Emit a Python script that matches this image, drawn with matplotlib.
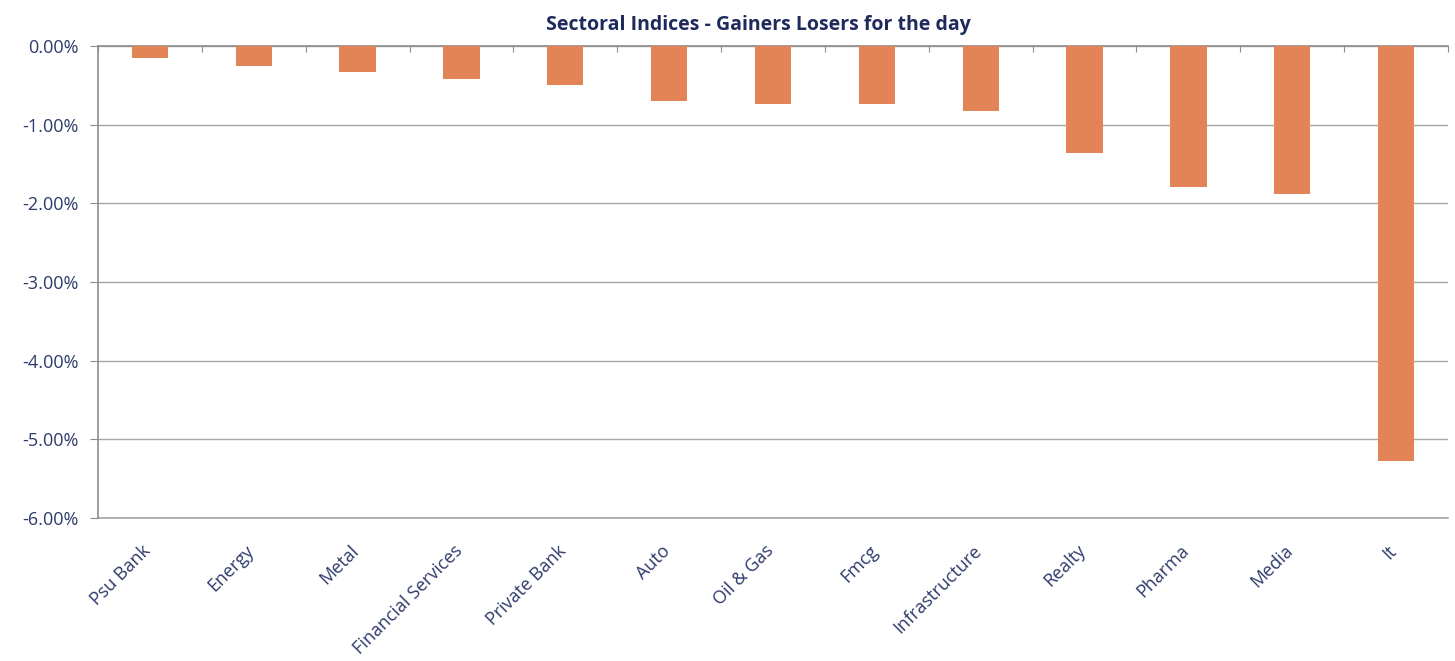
import matplotlib
matplotlib.use("Agg")
import matplotlib.pyplot as plt
from matplotlib.ticker import FuncFormatter, MultipleLocator
import numpy as np

categories = ["Psu Bank", "Energy", "Metal", "Financial Services", "Private Bank", "Auto",
              "Oil & Gas", "Fmcg", "Infrastructure", "Realty", "Pharma", "Media", "It"]
values = [-0.15, -0.25, -0.33, -0.42, -0.49, -0.70, -0.74, -0.74, -0.83, -1.36, -1.79, -1.88, -5.28]

plt.rcParams['font.family'] = ['Open Sans', 'DejaVu Sans']

fig = plt.figure(figsize=(14.55, 6.61), dpi=100)
ax = fig.add_axes([98/1455, 1 - 518/661, (1448 - 98)/1455, (518 - 46)/661])

x = np.arange(len(categories))
ax.bar(x, values, width=0.35, color="#E28455", zorder=3)

ax.set_xlim(-0.5, len(categories) - 0.5)
ax.set_ylim(-6, 0)
ax.yaxis.set_major_locator(MultipleLocator(1))
ax.yaxis.set_major_formatter(FuncFormatter(lambda v, p: f"{v:.2f}%"))
ax.grid(axis='y', color="#A6A6A6", linewidth=1, zorder=0)
ax.axhline(-6, color="#A6A6A6", linewidth=1.2, clip_on=False, zorder=1)

grey = "#8C8C8C"
for s in ["right", "bottom"]:
    ax.spines[s].set_visible(False)
ax.spines["left"].set_color(grey)
ax.spines["top"].set_color(grey)
ax.spines["left"].set_linewidth(1.2)
ax.spines["top"].set_linewidth(1.2)

ax.tick_params(axis='y', length=6, color=grey, labelsize=13, labelcolor="#2E3B6B", pad=8)
ax.xaxis.set_ticks_position('top')
ax.set_xticks(np.arange(-0.5, len(categories) + 0.5, 1.0))
ax.tick_params(axis='x', which='major', direction='in', length=4.5, color=grey, labeltop=False, labelbottom=False)
for xi, lab in zip(x, categories):
    ax.text(xi - 0.08, -6.3, lab, rotation=45, ha='right', va='top', rotation_mode='anchor',
            fontsize=13, color="#2E3B6B", transform=ax.transData)

fig.text(758/1455, 1 - 25/661, "Sectoral Indices - Gainers Losers for the day", ha='center', va='center',
         fontsize=14, fontweight='bold', color="#1F2A5C")

fig.savefig("out.png", dpi=100, facecolor="white")
